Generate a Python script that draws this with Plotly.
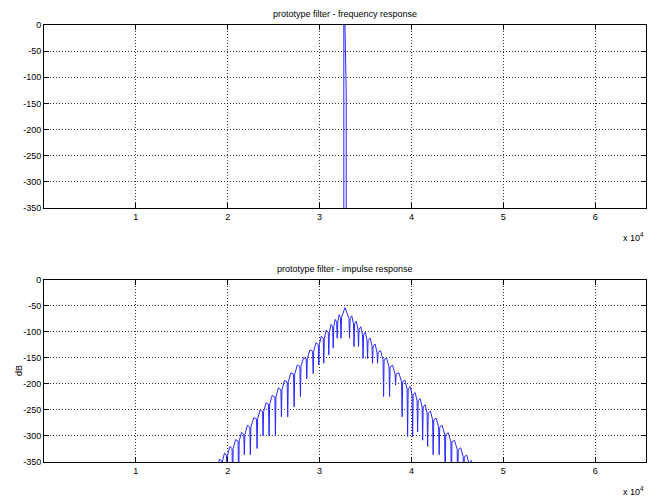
import plotly.graph_objects as go

# ---- data (sample index, dB) ----
freq_x = [32640, 32640, 32760, 32900, 32900]
freq_db = [-400, 0, 0, -125, -400]

# impulse response: lobe peaks, null positions, null depths, level where each null spike starts
imp_start = [18600, -400]
imp_end = [46700, -400]
null_x = [19378, 19924, 20534, 21188, 21810, 22464, 23195, 23849, 24503, 25191,
          25845, 26532, 27230, 27917, 28604, 29302, 29913, 30458, 31003, 31483,
          31919, 32333,
          33260, 33751, 34242, 34733, 35223, 35768, 36314, 36968, 37622, 38277,
          38985, 39585, 40130, 40676, 41221, 41766, 42366, 43020, 43674, 44351,
          45038, 45692, 46346]
null_db = [-400, -400, -400, -400, -336, -336, -324, -300, -300, -300,
           -263, -263, -244, -224, -190, -180, -163, -160, -144, -131,
           -112, -112,
           -112, -128, -128, -151, -151, -160, -160, -224, -224, -202,
           -263, -301, -301, -292, -308, -320, -336, -336, -400, -400,
           -400, -400, -400]
null_top_db = [-348, -337, -324, -310, -297, -283, -267, -253, -239, -225,
               -211, -196, -181, -166, -152, -137, -124, -112, -101, -90,
               -81, -72,
               -74, -84, -95, -105, -116, -127, -139, -153, -167, -181,
               -196, -209, -221, -232, -244, -256, -269, -283, -297, -311,
               -326, -340, -354]
peak_x = [19105, 19651, 20229, 20861, 21499, 22137, 22830, 23522, 24176, 24847,
          25518, 26189, 26881, 27574, 28261, 28953, 29608, 30186, 30731, 31243,
          31701, 32126, 32768,
          33505, 33996, 34487, 34978, 35495, 36041, 36641, 37295, 37950, 38631,
          39285, 39858, 40403, 40949, 41494, 42066, 42693, 43347, 44013, 44695,
          45365, 46019, 46494]
peak_db = [-344.2, -332.6, -320.3, -306.8, -293.2, -279.6, -264.8, -250.1, -236.1, -221.8,
           -207.5, -193.2, -178.5, -163.7, -149.1, -134.3, -120.4, -108.1, -96.5, -85.5,
           -75.8, -66.7, -53,
           -68.8, -79.3, -89.8, -100.3, -111.4, -123.1, -135.9, -149.9, -163.9, -178.5,
           -192.5, -204.8, -216.5, -228.2, -239.8, -252.1, -265.5, -279.5, -293.8, -308.4,
           -322.7, -336.7, -346.9]

x_tick_vals = [10000, 20000, 30000, 40000, 50000, 60000]
x_tick_text = ["1", "2", "3", "4", "5", "6"]
y_tick_vals = [0, -50, -100, -150, -200, -250, -300, -350]
y_tick_text = ["0", "-50", "-100", "-150", "-200", "-250", "-300", "-350"]

titles = ["prototype filter - frequency response", "prototype filter - impulse response"]
ylabel = "dB"

# assemble the polyline: peak -> spike down at each null -> next peak
GAP = 60  # half-width of a null spike, in samples
vx = [imp_start[0]]
vy = [imp_start[1]]
for i in range(len(peak_x)):
    vx.append(peak_x[i]); vy.append(peak_db[i])
    if i < len(null_x):
        vx += [null_x[i] - GAP, null_x[i], null_x[i] + GAP]
        vy += [null_top_db[i], null_db[i], null_top_db[i]]
vx.append(imp_end[0]); vy.append(imp_end[1])

FONT = "Liberation Sans Narrow, Arial Narrow, Liberation Sans, Arial"
LINE = "rgb(40,40,255)"

fig = go.Figure()
fig.add_trace(go.Scatter(x=freq_x, y=freq_db, mode="lines",
                         line=dict(color=LINE, width=1), xaxis="x", yaxis="y",
                         showlegend=False, hoverinfo="skip"))
fig.add_trace(go.Scatter(x=vx, y=vy, mode="lines",
                         line=dict(color=LINE, width=1),
                         xaxis="x2", yaxis="y2", showlegend=False, hoverinfo="skip"))

axis_common = dict(showline=True, linecolor="black", linewidth=1, mirror="ticks",
                   ticks="inside", ticklen=5, tickcolor="black", tickwidth=1,
                   showgrid=True, gridcolor="rgba(0,0,0,0.8)", griddash="1px,2px", gridwidth=1,
                   zeroline=False, tickfont=dict(family=FONT, size=9, color="black"))

xa = dict(axis_common, range=[0, 65536], tickvals=x_tick_vals, ticktext=x_tick_text)
ya = dict(axis_common, range=[-350, 0], tickvals=y_tick_vals, ticktext=y_tick_text)

fig.update_layout(
    width=659, height=499,
    margin=dict(l=44, r=13, t=25, b=37),
    paper_bgcolor="white", plot_bgcolor="white",
    xaxis=dict(xa, domain=[0, 1], anchor="y"),
    yaxis=dict(ya, domain=[0.5812, 1], anchor="x"),
    xaxis2=dict(xa, domain=[0, 1], anchor="y2"),
    yaxis2=dict(ya, domain=[0, 0.4165], anchor="x2"),
)

ann = []
ann.append(dict(text=titles[0], x=0.5, y=1, xref="paper", yref="paper",
                xanchor="center", yanchor="bottom", yshift=4, showarrow=False,
                font=dict(family=FONT, size=9, color="black")))
ann.append(dict(text=titles[1], x=0.5, y=0.4165, xref="paper", yref="paper",
                xanchor="center", yanchor="bottom", yshift=4, showarrow=False,
                font=dict(family=FONT, size=9, color="black")))
ann.append(dict(text=ylabel, x=0, y=0.2083, xref="paper", yref="paper",
                xanchor="right", yanchor="middle", xshift=-18, textangle=-90,
                showarrow=False, font=dict(family=FONT, size=9, color="black")))
for ybase in [0.5812, 0.0]:
    ann.append(dict(text="x 10<sup>4</sup>", x=1, y=ybase, xref="paper", yref="paper",
                    xanchor="right", yanchor="top", xshift=0, yshift=-21,
                    showarrow=False, font=dict(family=FONT, size=9, color="black")))
fig.update_layout(annotations=ann)

fig.write_html("out.html")
